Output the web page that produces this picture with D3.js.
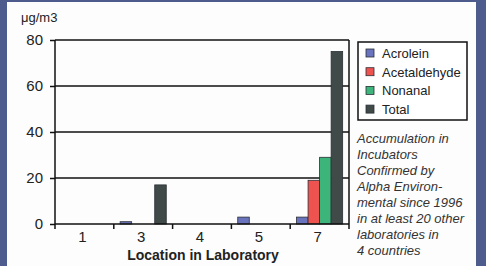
<!DOCTYPE html>
<html>
<head>
<meta charset="utf-8">
<script src="https://cdn.jsdelivr.net/npm/d3@7"></script>
<style>
  body { margin: 0; background: #4d5b8d; }
  svg { display: block; font-family: "Liberation Sans", Arial, sans-serif; }
</style>
</head>
<body>
<svg id="chart" width="486" height="266"></svg>
<script>
// Data
const locations = ['1', '3', '4', '5', '7'];
const seriesNames = ['Acrolein', 'Acetaldehyde', 'Nonanal', 'Total'];
const acrolein = [0, 1, 0, 3, 3];
const acetaldehyde = [0, 0, 0, 0, 19];
const nonanal = [0, 0, 0, 0, 29];
const total = [0, 17, 0, 0, 75];
const yTicks = [0, 20, 40, 60, 80];
const colors = ['#6a73bd', '#ef5350', '#3db57a', '#3f4a49'];
const noteLines = ['Accumulation in', 'Incubators', 'Confirmed by', 'Alpha Environ-',
  'mental since 1996', 'in at least 20 other', 'laboratories in', '4 countries'];

const seriesValues = [acrolein, acetaldehyde, nonanal, total];

const svg = d3.select("#chart");

// white slide panel
svg.append("rect")
  .attr("x", 7).attr("y", 2)
  .attr("width", 469).attr("height", 266)
  .attr("fill", "#fdfdfd");

const margin = { left: 55, right: 349, top: 40, bottom: 224 };

const x0 = d3.scaleBand().domain(locations).range([margin.left, margin.right]).padding(0);
const x1 = d3.scaleBand().domain(seriesNames).range([0, x0.bandwidth()])
  .paddingInner(0).paddingOuter(0.55);
const y = d3.scaleLinear().domain([0, 80]).range([margin.bottom, margin.top]);

// gridlines
svg.append("g")
  .selectAll("line")
  .data(yTicks.filter(d => d > 0))
  .enter().append("line")
  .attr("x1", margin.left).attr("x2", margin.right)
  .attr("y1", d => y(d)).attr("y2", d => y(d))
  .attr("stroke", "#111").attr("stroke-width", 1.5);

// bars
const rows = [];
locations.forEach((loc, i) => {
  seriesNames.forEach((s, j) => {
    rows.push({ loc: loc, series: s, value: seriesValues[j][i], color: colors[j] });
  });
});

svg.append("g")
  .selectAll("rect")
  .data(rows.filter(d => d.value > 0))
  .enter().append("rect")
  .attr("x", d => x0(d.loc) + x1(d.series))
  .attr("y", d => y(d.value))
  .attr("width", x1.bandwidth())
  .attr("height", d => y(0) - y(d.value))
  .attr("fill", d => d.color)
  .attr("stroke", "#2a2f35")
  .attr("stroke-width", 0.8);

// y axis
const yAxis = svg.append("g")
  .attr("transform", `translate(${margin.left},0)`)
  .call(d3.axisLeft(y).tickValues(yTicks).tickSize(5).tickSizeOuter(0).tickFormat(d3.format("d")));
yAxis.select(".domain").remove();
yAxis.selectAll("line").attr("stroke", "#111").attr("stroke-width", 1.5);
yAxis.selectAll("text").attr("font-size", 15).attr("fill", "#222").attr("dx", -4);
svg.append("line")
  .attr("x1", margin.left).attr("x2", margin.left)
  .attr("y1", margin.top).attr("y2", margin.bottom + 5)
  .attr("stroke", "#111").attr("stroke-width", 1.5);

// x axis
svg.append("line")
  .attr("x1", margin.left).attr("x2", margin.right)
  .attr("y1", y(0)).attr("y2", y(0))
  .attr("stroke", "#111").attr("stroke-width", 1.5);
svg.append("line")
  .attr("x1", margin.right).attr("x2", margin.right)
  .attr("y1", margin.top).attr("y2", margin.bottom + 5)
  .attr("stroke", "#111").attr("stroke-width", 1.5);
svg.append("g")
  .selectAll("line")
  .data(locations.slice(1))
  .enter().append("line")
  .attr("x1", d => x0(d)).attr("x2", d => x0(d))
  .attr("y1", y(0)).attr("y2", y(0) + 5)
  .attr("stroke", "#111").attr("stroke-width", 1.5);
svg.append("g")
  .selectAll("text")
  .data(locations)
  .enter().append("text")
  .attr("x", d => x0(d) + x0.bandwidth() / 2 - 2)
  .attr("y", 242)
  .attr("text-anchor", "middle")
  .attr("font-size", 15)
  .attr("fill", "#222")
  .text(d => d);

// axis titles
svg.append("text")
  .attr("x", 21).attr("y", 22)
  .attr("font-size", 13).attr("fill", "#222")
  .text("μg/m3");
svg.append("text")
  .attr("x", 203).attr("y", 260)
  .attr("text-anchor", "middle")
  .attr("font-size", 14).attr("font-weight", "bold").attr("fill", "#222")
  .text("Location in Laboratory");

// legend
svg.append("rect")
  .attr("x", 358).attr("y", 42)
  .attr("width", 109).attr("height", 78)
  .attr("fill", "#fff").attr("stroke", "#111").attr("stroke-width", 1.5);
const legend = svg.append("g")
  .selectAll("g")
  .data(seriesNames)
  .enter().append("g")
  .attr("transform", (d, i) => `translate(366,${53 + i * 18.7})`);
legend.append("rect")
  .attr("x", 0).attr("y", -4)
  .attr("width", 8).attr("height", 8)
  .attr("fill", (d, i) => colors[i])
  .attr("stroke", "#2a2f35").attr("stroke-width", 0.8);
legend.append("text")
  .attr("x", 16).attr("y", 5)
  .attr("font-size", 13).attr("fill", "#222")
  .text(d => d);

// note
svg.append("g")
  .selectAll("text")
  .data(noteLines)
  .enter().append("text")
  .attr("x", 357)
  .attr("y", (d, i) => 143 + i * 16)
  .attr("font-size", 13).attr("font-style", "italic").attr("fill", "#333")
  .text(d => d);
</script>
</body>
</html>
